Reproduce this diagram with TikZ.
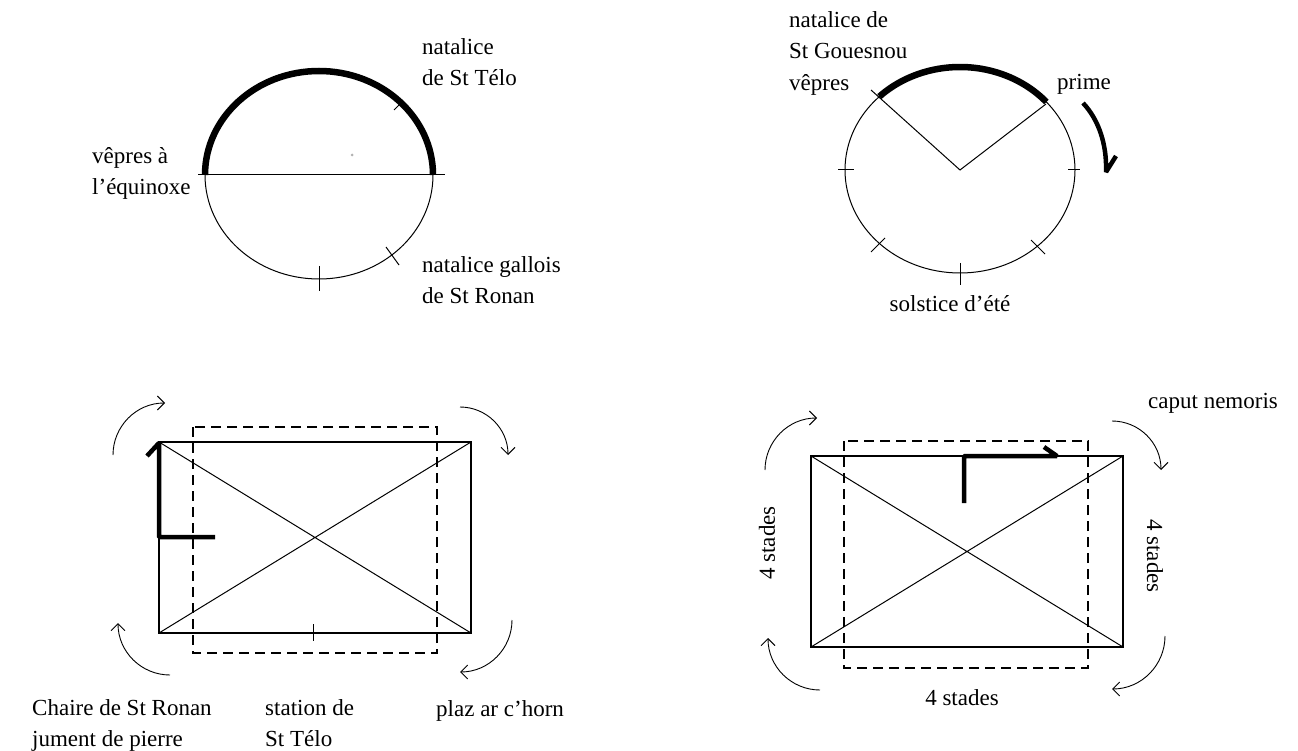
\documentclass[tikz,border=0pt]{standalone}
\usepackage{fontspec}
\setmainfont{Liberation Serif}
\usetikzlibrary{arrows.meta}

\begin{document}
\begin{tikzpicture}[x=1pt, y=-1pt,
    every node/.style={font=\fontsize{23}{31}\selectfont, inner sep=0pt, align=left},
    fine/.style={line width=1pt},
    heavy arc/.style={line width=6.5pt},
    route/.style={line width=4.5pt, line join=bevel},
    turn/.style={line width=0.9pt, -{Straight Barb[length=7pt,width=14pt]}},
    plan/.style={line width=1.3pt},
    dashplan/.style={line width=1.2pt, dash pattern=on 10pt off 6pt}]
    \useasboundingbox (0,0) rectangle (1298,751);

    % Circle of the equinox, top left
    \coordinate (eq) at (319,175);
    \draw[fine] (eq) ellipse [x radius=114, y radius=104];
    \draw[heavy arc] (205,175) arc[start angle=180, end angle=360, x radius=114, y radius=104];
    \draw[fine] (198,175) -- (445,175);
    \draw[fine] (319,266) -- (319,291);
    \draw[fine] (386,247) -- (399,265);
    \draw[fine] (399,105) -- (394,110);
    \fill[gray!60] (352,155) circle (1.5);
    % two-line labels sit on the baseline of their last line
    \node[anchor=base west] (telo) at (422,86) {natalice\\de St Télo};
    \node[anchor=base west] (equi) at (92,195) {vêpres à\\l'équinoxe};
    \node[anchor=base west] (gall) at (422,303) {natalice gallois\\de St Ronan};

    % Circle of the solstice, top right
    \coordinate (so) at (960,170);
    \coordinate (vp) at (871,90);
    \coordinate (pr) at (1046,104);
    \draw[fine] (so) ellipse [x radius=115, y radius=103];
    \draw[heavy arc] (so) ++(-134.5:115 and 103) arc[start angle=-134.5, end angle=-41.3, x radius=115, y radius=103];
    \draw[fine] (vp) -- (so) -- (pr);
    \draw[fine] (838,170) -- (854,170);
    \draw[fine] (1068,170) -- (1080,170);
    \draw[fine] (960,263) -- (960,285);
    \draw[fine] (871,252) -- (885,238);
    \draw[fine] (1031,240) -- (1045,254);
    \draw[route] (1083,103) .. controls (1099,120) and (1107,145) .. (1106,172) -- (1116,156);
    \node[anchor=base west] (goue) at (789,59) {natalice de\\St Gouesnou};
    \node[anchor=base west] (vepr) at (789,91) {vêpres};
    \node[anchor=base west] (prim) at (1057,90) {prime};
    \node[anchor=base] (sols) at (950,312) {solstice d'été};

    % Plan with the chair, bottom left
    \coordinate (a1) at (159,442);
    \coordinate (a2) at (471,442);
    \coordinate (a3) at (471,633);
    \coordinate (a4) at (159,633);
    \draw[plan] (a1) rectangle (a3);
    \draw[fine] (a1) -- (a3) (a4) -- (a2);
    \draw[dashplan] (193,427) rectangle (437,653);
    \draw[fine] (313,624) -- (313,641);
    \draw[route] (215,537) -- (159,537) -- (159,443) -- (147,456);
    \draw[turn] (113,455) arc[start angle=180, end angle=270, radius=52];
    \draw[turn] (460,407) arc[start angle=270, end angle=360, radius=48];
    \draw[turn] (512,620) arc[start angle=0, end angle=90, radius=52];
    \draw[turn] (170,675) arc[start angle=90, end angle=180, radius=52];
    \node[anchor=base west] (chai) at (32,746) {Chaire de St Ronan\\jument de pierre};
    \node[anchor=base west] (stat) at (265,746) {station de\\St Télo};
    \node[anchor=base west] (plaz) at (436,716) {plaz ar c'horn};

    % Plan of the four stades, bottom right
    \coordinate (b1) at (811,456);
    \coordinate (b2) at (1123,456);
    \coordinate (b3) at (1123,647);
    \coordinate (b4) at (811,647);
    \draw[plan] (b1) rectangle (b3);
    \draw[fine] (b1) -- (b3) (b4) -- (b2);
    \draw[dashplan] (844,441) rectangle (1088,668);
    \draw[route] (964,503) -- (964,456) -- (1057,456) -- (1044,447);
    \draw[turn] (765,470) arc[start angle=180, end angle=270, radius=52];
    \draw[turn] (1112,421) arc[start angle=270, end angle=360, radius=49];
    \draw[turn] (1165,636) arc[start angle=0, end angle=90, radius=53];
    \draw[turn] (820,690) arc[start angle=90, end angle=180, radius=52];
    \node[anchor=base west] (caput) at (1148,408) {caput nemoris};
    \node[rotate=90] (sl) at (767,543) {4 stades};
    \node[rotate=-90] (sr) at (1155,556) {4 stades};
    \node[anchor=base] (sb) at (962,705) {4 stades};
\end{tikzpicture}
\end{document}
